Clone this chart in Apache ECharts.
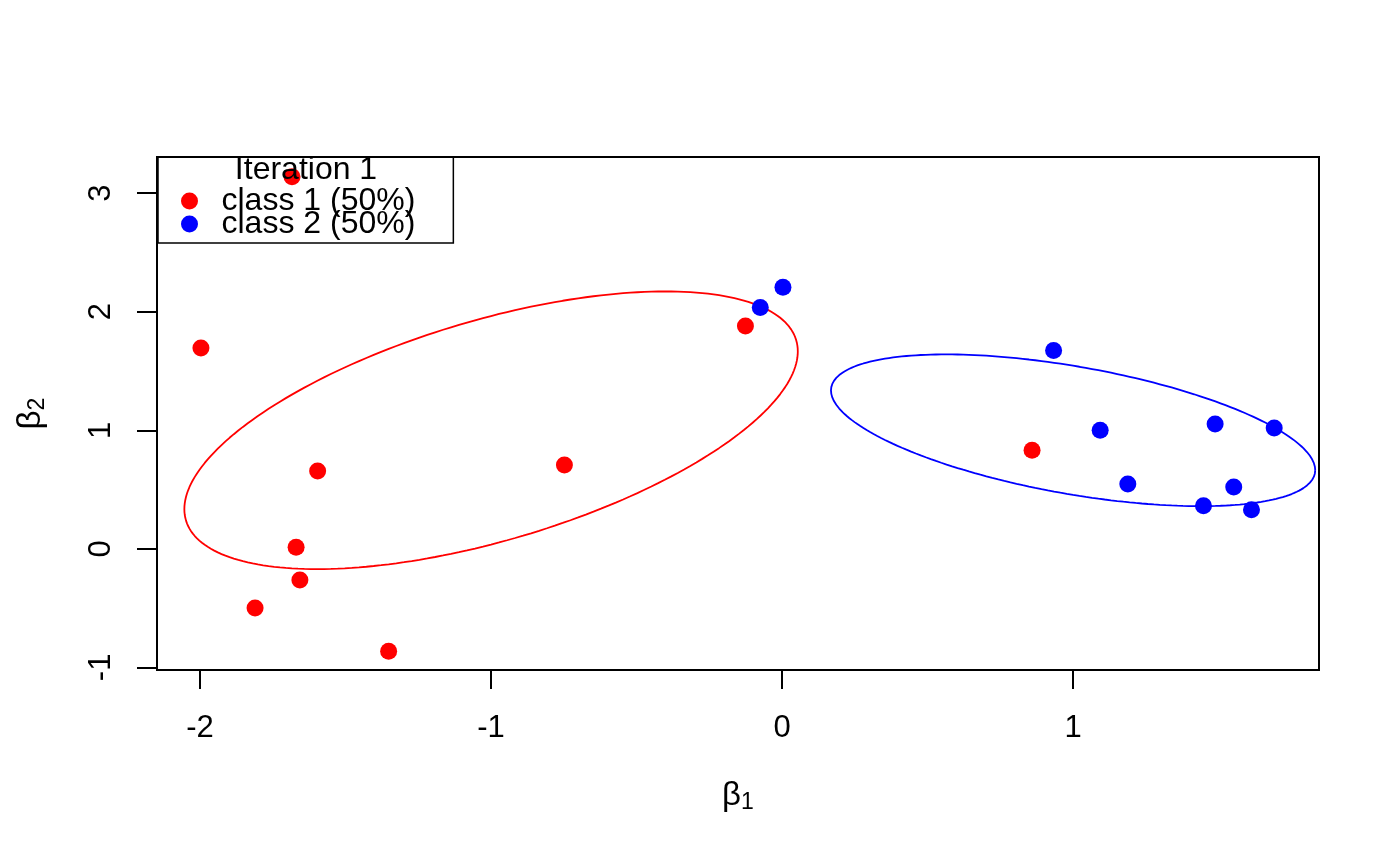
<!DOCTYPE html>
<html>
<head>
<meta charset="utf-8">
<script src="https://cdn.jsdelivr.net/npm/echarts@6/dist/echarts.min.js"></script>
<style>
  html, body { margin: 0; padding: 0; background: #fff; }
  #chart { width: 1400px; height: 866px; }
</style>
</head>
<body>
<div id="chart"></div>
<script>
// ---- data ----
const xTicks = [-2, -1, 0, 1];
const yTicks = [-1, 0, 1, 2, 3];

const class1X = [-1.684, -1.997, -1.596, -1.670, -1.657, -1.811, -1.352, -0.748, -0.126, 0.859];
const class1Y = [3.138, 1.694, 0.657, 0.013, -0.262, -0.500, -0.863, 0.707, 1.880, 0.831];

const class2X = [-0.075, 0.003, 0.933, 1.093, 1.188, 1.488, 1.691, 1.448, 1.552, 1.613];
const class2Y = [2.035, 2.207, 1.672, 1.000, 0.547, 1.053, 1.019, 0.364, 0.522, 0.330];

// ellipse parameters: centre, spread along x / y, correlation
const ell1Center = [-1.0, 1.0];
const ell1Spread = [1.054, 1.171];
const ell1Rho = 0.568;
const ell2Center = [1.0, 1.0];
const ell2Spread = [0.832, 0.640];
const ell2Rho = -0.525;

const legendNames = ['class 1 (50%)', 'class 2 (50%)'];
const legendTitle = 'Iteration 1';

// ---- build ----
function ellipsePath(c, s, rho) {
  const phi = Math.acos(rho);
  const pts = [];
  const n = 240;
  for (let i = 0; i <= n; i++) {
    const t = 2 * Math.PI * i / n;
    pts.push([c[0] + s[0] * Math.cos(t), c[1] + s[1] * Math.cos(t - phi)]);
  }
  return pts;
}
const zip = (a, b) => a.map((v, i) => [v, b[i]]);

const FONT = 'Liberation Sans, Arial, Helvetica, sans-serif';
const chart = echarts.init(document.getElementById('chart'), null, { renderer: 'canvas' });

const axisCommon = {
  type: 'value',
  splitLine: { show: false },
  axisLine: { show: false, onZero: false },
};
const nameRich = {
  b: { fontSize: 33, lineHeight: 36, color: '#000', fontFamily: FONT },
  s: { fontSize: 23, lineHeight: 18, color: '#000', verticalAlign: 'bottom', fontFamily: FONT }
};

chart.setOption({
  animation: false,
  backgroundColor: '#fff',
  textStyle: { fontFamily: FONT },
  grid: {
    left: 157, top: 157, right: 81, bottom: 196,
    show: true, borderColor: '#000', borderWidth: 2, backgroundColor: 'transparent'
  },
  xAxis: Object.assign({}, axisCommon, {
    min: -2.148, max: 1.845,
    axisTick: { show: true, length: 19, lineStyle: { color: '#000', width: 2 }, customValues: xTicks },
    axisLabel: { customValues: xTicks, fontSize: 31, color: '#000', margin: 43, fontFamily: FONT },
    name: '{b|β}{s|1}',
    nameLocation: 'middle',
    nameGap: 108,
    nameTextStyle: { rich: nameRich }
  }),
  yAxis: Object.assign({}, axisCommon, {
    min: -1.022, max: 3.305,
    axisTick: { show: true, length: 20, lineStyle: { color: '#000', width: 2 }, customValues: yTicks },
    axisLabel: { customValues: yTicks, fontSize: 31, color: '#000', margin: 40, rotate: 90, fontFamily: FONT },
    name: '{b|β}{s|2}',
    nameLocation: 'middle',
    nameGap: 108,
    nameRotate: 90,
    nameTextStyle: { rich: nameRich }
  }),
  legend: {
    data: legendNames,
    orient: 'vertical',
    left: 158, top: 157,
    icon: 'circle',
    itemWidth: 54, itemHeight: 17,
    itemGap: -9,
    padding: [28, 38, 3, 23],
    borderColor: '#000', borderWidth: 1.5,
    backgroundColor: 'transparent',
    selectedMode: false,
    itemStyle: { opacity: 1 },
    textStyle: { fontSize: 32, color: '#000', fontFamily: FONT }
  },
  graphic: [{
    type: 'text',
    x: 306, y: 170,
    z: 100,
    style: {
      text: legendTitle,
      font: '32px ' + FONT,
      fill: '#000',
      textAlign: 'center',
      textVerticalAlign: 'middle'
    }
  }],
  series: [
    {
      name: 'ellipse 1', type: 'line', data: ellipsePath(ell1Center, ell1Spread, ell1Rho),
      showSymbol: false, symbol: 'none', silent: true,
      lineStyle: { color: '#FF0000', width: 1.8 }, z: 2
    },
    {
      name: 'ellipse 2', type: 'line', data: ellipsePath(ell2Center, ell2Spread, ell2Rho),
      showSymbol: false, symbol: 'none', silent: true,
      lineStyle: { color: '#0000FF', width: 1.8 }, z: 2
    },
    {
      name: legendNames[0], type: 'scatter', data: zip(class1X, class1Y),
      symbol: 'circle', symbolSize: 17, itemStyle: { color: '#FF0000', opacity: 1 }, z: 3
    },
    {
      name: legendNames[1], type: 'scatter', data: zip(class2X, class2Y),
      symbol: 'circle', symbolSize: 17, itemStyle: { color: '#0000FF', opacity: 1 }, z: 3
    }
  ]
});
</script>
</body>
</html>
